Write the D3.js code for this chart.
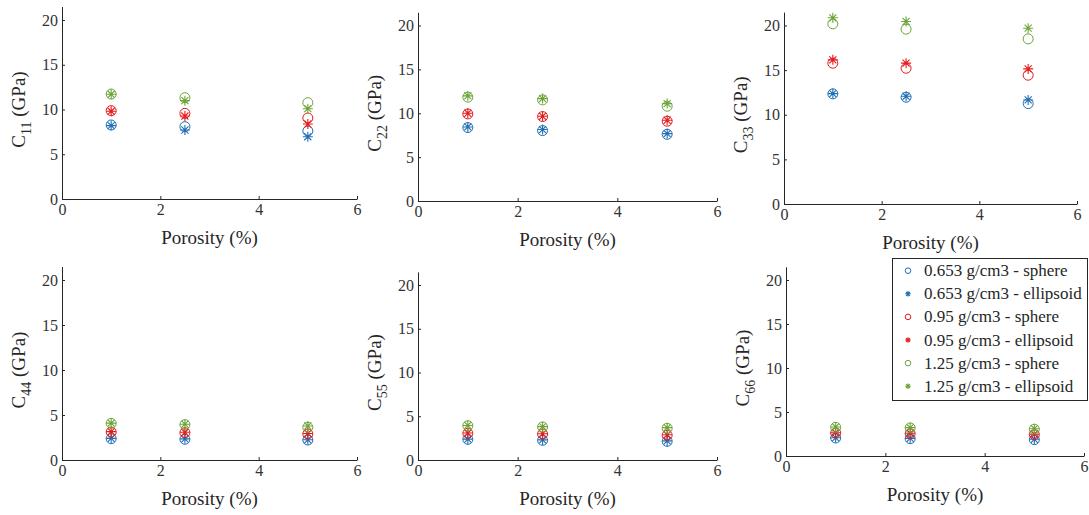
<!DOCTYPE html>
<html>
<head>
<meta charset="utf-8">
<script src="https://cdn.jsdelivr.net/npm/d3@7"></script>
<style>
  body { margin: 0; background: #fff; }
  svg text { font-family: "Liberation Serif", "DejaVu Serif", serif !important; }
  .axis path, .axis line { stroke: #262626; }
  .axis text { fill: #333; font-size: 16px; }
</style>
</head>
<body>
<svg width="1089" height="515"></svg>
<script>
// porosity values (x axis) shared by all panels
const porosity = [1, 2.5, 5];
const xTicks = [0, 2, 4, 6];
const yTicks = [0, 5, 10, 15, 20];

// series order: 0.653 sphere, 0.653 ellipsoid, 0.95 sphere, 0.95 ellipsoid, 1.25 sphere, 1.25 ellipsoid
const seriesLabels = [
  "0.653 g/cm3 - sphere", "0.653 g/cm3 - ellipsoid",
  "0.95 g/cm3 - sphere", "0.95 g/cm3 - ellipsoid",
  "1.25 g/cm3 - sphere", "1.25 g/cm3 - ellipsoid"
];
const seriesColors = ["#1f6fb4", "#1f6fb4", "#e41a1c", "#e41a1c", "#6ba539", "#6ba539"];
const seriesShapes = ["circle", "star", "circle", "star", "circle", "star"];

const c11 = [[8.27, 8.08, 7.6], [8.2, 7.71, 6.96], [9.87, 9.57, 9.05], [9.8, 9.27, 8.38], [11.73, 11.32, 10.76], [11.7, 10.99, 10.09]];
const c22 = [[8.37, 8.02, 7.6], [8.44, 8.14, 7.68], [9.92, 9.62, 9.09], [10.0, 9.66, 9.2], [11.83, 11.52, 10.8], [11.98, 11.67, 11.1]];
const c33 = [[12.34, 11.96, 11.25], [12.37, 12.07, 11.66], [15.78, 15.21, 14.43], [16.15, 15.78, 15.14], [20.19, 19.59, 18.5], [20.86, 20.45, 19.7]];
const c44 = [[2.37, 2.3, 2.22], [2.4, 2.35, 2.25], [3.11, 3.04, 2.89], [3.15, 3.08, 2.95], [4.07, 3.93, 3.63], [4.1, 3.98, 3.78]];
const c55 = [[2.36, 2.25, 2.13], [2.38, 2.3, 2.18], [3.05, 2.97, 2.82], [3.08, 3.0, 2.88], [3.92, 3.77, 3.62], [3.95, 3.82, 3.7]];
const c66 = [[2.05, 1.97, 1.86], [2.07, 2.0, 1.9], [2.62, 2.54, 2.43], [2.65, 2.58, 2.48], [3.26, 3.19, 3.04], [3.3, 3.23, 3.1]];

const componentNames = ["11", "22", "33", "44", "55", "66"];
const componentData = [c11, c22, c33, c44, c55, c66];

// panel boxes in pixels: left/right of x axis, pixel of y=0 and y=20
const panels = [
  {x0: 62,  x1: 357,  y0: 199, y20: 20},
  {x0: 418, x1: 717,  y0: 201, y20: 25.5},
  {x0: 784, x1: 1077, y0: 204, y20: 25.5},
  {x0: 62,  x1: 357,  y0: 460, y20: 280},
  {x0: 418, x1: 717,  y0: 460, y20: 285},
  {x0: 786, x1: 1084, y0: 456, y20: 280}
];

const svg = d3.select("svg");

// 8-arm asterisk like matlab '*'
function starPath(r) {
  const d = r * Math.SQRT1_2;
  return `M${-r},0L${r},0M0,${-r}L0,${r}M${-d},${-d}L${d},${d}M${-d},${d}L${d},${-d}`;
}

function drawMarker(g, shape, color, r) {
  if (shape === "circle") {
    g.append("circle").attr("r", r).attr("fill", "none")
      .attr("stroke", color).attr("stroke-width", 1);
  } else {
    g.append("path").attr("d", starPath(r)).attr("fill", "none")
      .attr("stroke", color).attr("stroke-width", 1.1);
  }
}

panels.forEach((p, i) => {
  const x = d3.scaleLinear().domain([0, 6]).range([p.x0, p.x1]);
  const pxPerUnit = (p.y0 - p.y20) / 20;
  const y = d3.scaleLinear().domain([0, 21.5]).range([p.y0, p.y0 - 21.5 * pxPerUnit]);

  const g = svg.append("g");

  g.append("g").attr("class", "axis")
    .attr("transform", `translate(0,${p.y0})`)
    .call(d3.axisBottom(x).tickValues(xTicks).tickFormat(d3.format("d"))
      .tickSizeInner(-3).tickSizeOuter(0).tickPadding(5));

  g.append("g").attr("class", "axis")
    .attr("transform", `translate(${p.x0},0)`)
    .call(d3.axisLeft(y).tickValues(yTicks).tickFormat(d3.format("d"))
      .tickSizeInner(-3).tickSizeOuter(0).tickPadding(4));

  // x label
  g.append("text")
    .attr("x", (p.x0 + p.x1) / 2)
    .attr("y", p.y0 + 45)
    .attr("text-anchor", "middle")
    .attr("fill", "#262626")
    .attr("font-size", 19)
    .text("Porosity (%)");

  // y label with subscript
  const yl = g.append("text")
    .attr("transform", `translate(${p.x0 - 37},${y(10)}) rotate(-90)`)
    .attr("text-anchor", "middle")
    .attr("fill", "#262626")
    .attr("font-size", 19);
  yl.append("tspan").text("C");
  yl.append("tspan").attr("dy", 6).attr("font-size", 14).text(componentNames[i]);
  yl.append("tspan").attr("dy", -6).text(" (GPa)");

  // markers
  componentData[i].forEach((vals, s) => {
    vals.forEach((v, k) => {
      const m = g.append("g").attr("transform", `translate(${x(porosity[k])},${y(v)})`);
      drawMarker(m, seriesShapes[s], seriesColors[s], 5);
    });
  });
});

// legend
const lg = svg.append("g").attr("transform", "translate(892,258)");
lg.append("rect").attr("x", 0.5).attr("y", 0.5).attr("width", 195).attr("height", 142)
  .attr("fill", "#fff").attr("stroke", "#262626").attr("stroke-width", 1);
seriesLabels.forEach((lab, s) => {
  const row = lg.append("g").attr("transform", `translate(16,${12.7 + s * 23.1})`);
  drawMarker(row, seriesShapes[s], seriesColors[s], 2.8);
  row.append("text").attr("x", 16).attr("y", 5.5)
    .attr("font-size", 17).attr("fill", "#262626").text(lab);
});
</script>
</body>
</html>
